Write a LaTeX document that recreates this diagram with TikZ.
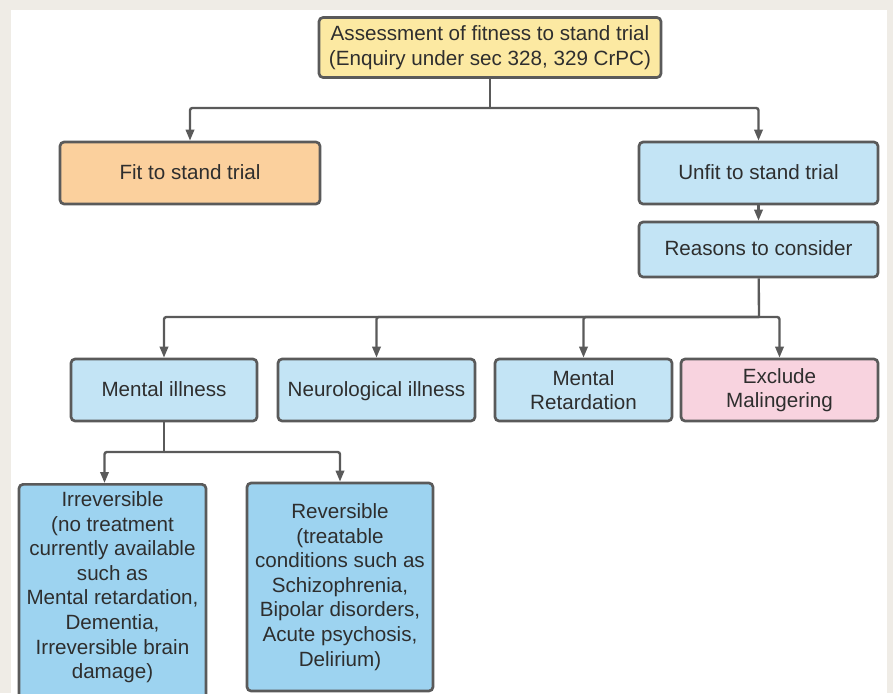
\documentclass[tikz,border=0pt]{standalone}
\usepackage{fontspec}
\setmainfont{Liberation Sans}
\usetikzlibrary{arrows.meta}

\definecolor{frame}{HTML}{EFECE6}
\definecolor{linegray}{HTML}{5A5A5A}
\definecolor{textgray}{HTML}{2E2E2E}
\definecolor{yellowbox}{HTML}{FCE9A2}
\definecolor{orangebox}{HTML}{FBD09D}
\definecolor{bluebox}{HTML}{C3E4F5}
\definecolor{pinkbox}{HTML}{F8D3DF}
\definecolor{deepblue}{HTML}{9DD3F0}

\tikzset{
  box/.style={draw=linegray, line width=2.3pt, rounded corners=3.5pt, text=textgray,
    align=center, font=\fontsize{17.6}{21}\selectfont},
  oneline/.style={text depth=0.08cm},
  link/.style={draw=linegray, line width=2pt, rounded corners=2pt}
}

\begin{document}
\begin{tikzpicture}[x=0.03cm, y=-0.03cm, >={Triangle[length=0.33cm,width=0.25cm]}]
\useasboundingbox (0,0) rectangle (893,693);
\clip (0,0) rectangle (893,693);
\fill[frame] (0,0) rectangle (893,693);
\fill[white] (11,10) rectangle (887,693);

%%%%%%%%%%%% Assessment
\node[box, fill=yellowbox, minimum width=10.26cm, minimum height=1.8cm] (assess) at (490,47.5)
  {Assessment of fitness to stand trial\\(Enquiry under sec 328, 329 CrPC)};
\node[box, oneline, fill=orangebox, minimum width=7.8cm, minimum height=1.86cm] (fit) at (190,173) {Fit to stand trial};
\node[box, oneline, fill=bluebox, minimum width=7.17cm, minimum height=1.86cm] (unfit) at (758.5,173) {Unfit to stand trial};
\node[box, oneline, fill=bluebox, minimum width=7.17cm, minimum height=1.65cm] (reasons) at (758.5,249.5) {Reasons to consider};

\coordinate (topj) at (490,108);
\draw[link] (assess) -- (topj);
\draw[link,->] (topj) -| (fit);
\draw[link,->] (topj) -| (unfit);
\draw[link,->] (unfit) -- (reasons);

%%%%%%%%%%%% Reasons
\node[box, oneline, fill=bluebox, minimum width=5.58cm, minimum height=1.86cm] (mental) at (164,390) {Mental illness};
\node[box, oneline, fill=bluebox, minimum width=5.91cm, minimum height=1.86cm] (neuro) at (376.5,390) {Neurological illness};
\node[box, fill=bluebox, minimum width=5.31cm, minimum height=1.86cm] (retard) at (583.5,390) {Mental\\Retardation};
\node[box, fill=pinkbox, minimum width=5.91cm, minimum height=1.86cm] (maling) at (779.5,390) {Exclude\\Malingering};

\coordinate (rowj) at (759,317);
\draw[link] (reasons) -- (rowj);
\foreach \n in {mental,neuro,retard,maling}
  \draw[link,->] (rowj) -| (\n);

%%%%%%%%%%%% Mental illness
\node[box, fill=deepblue, minimum width=5.61cm, minimum height=6.78cm, anchor=north] (irrev) at (112.5,483)
  {Irreversible\\(no treatment\\currently available\\such as\\Mental retardation,\\Dementia,\\Irreversible brain\\damage)\\\mbox{}};
\node[box, fill=deepblue, minimum width=5.58cm, minimum height=6.24cm] (rev) at (340,587)
  {Reversible\\(treatable\\conditions such as\\Schizophrenia,\\Bipolar disorders,\\Acute psychosis,\\Delirium)};

\coordinate (illj) at (164,452);
\draw[link] (mental) -- (illj);
\draw[link,->] (illj) -| ([xshift=-0.24cm]irrev.north);
\draw[link,->] (illj) -| (rev);
\end{tikzpicture}
\end{document}
